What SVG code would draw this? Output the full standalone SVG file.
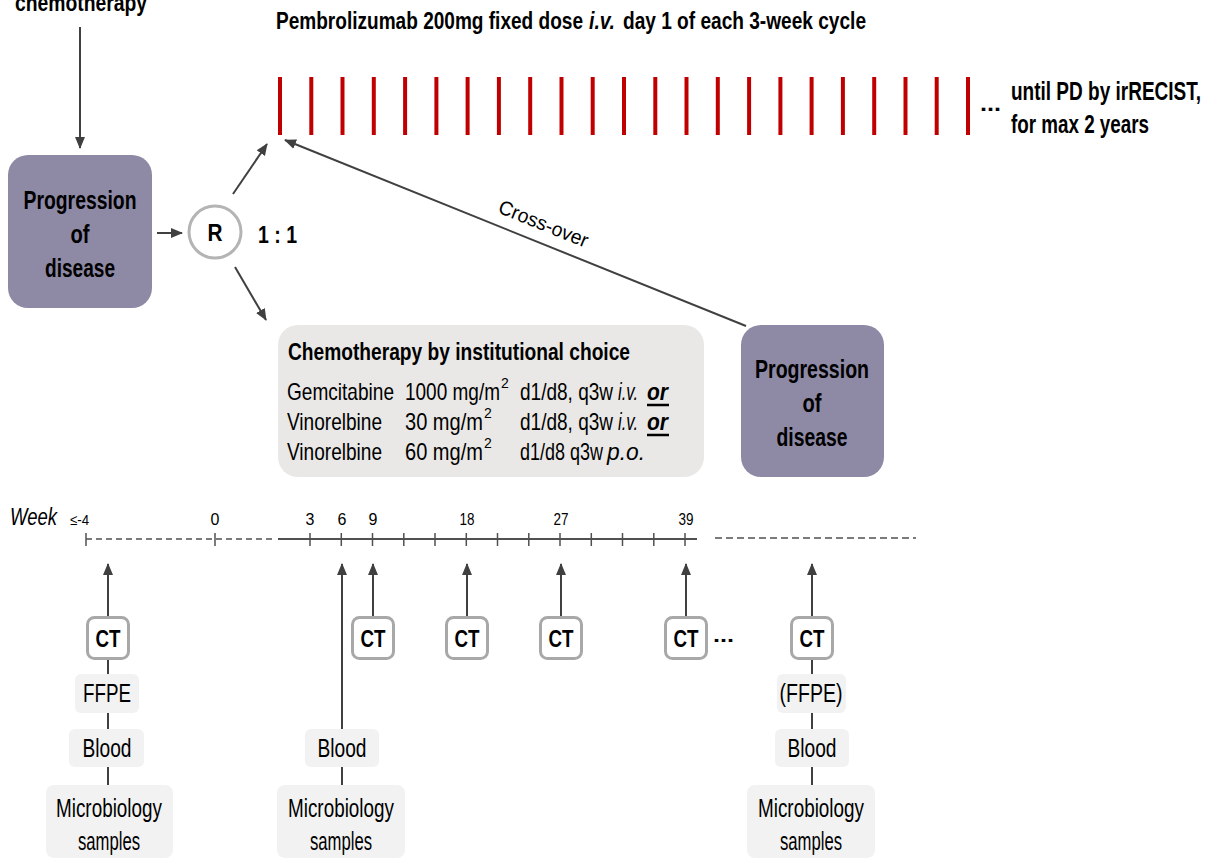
<svg xmlns="http://www.w3.org/2000/svg" width="1205" height="858" viewBox="0 0 1205 858">
<defs>
<style>
.t{font-family:"Liberation Sans Narrow","Liberation Sans",Arial,sans-serif;fill:#000}
.b{font-weight:bold}
.i{font-style:italic}
.m{text-anchor:middle}
.pd{fill:#8e89a5}
.ln{stroke:#404040;stroke-width:2;fill:none}
.tk{stroke:#505050;stroke-width:1.5;fill:none}
.red{stroke:#c00000;stroke-width:4}
.ct{fill:#fff;stroke:#a8a8a8;stroke-width:3}
.smp{fill:#f2f2f2}
</style>
<marker id="ah" markerUnits="userSpaceOnUse" markerWidth="12" markerHeight="12" viewBox="0 0 12 12" refX="11" refY="6" orient="auto">
<path d="M0,1 L12,6 L0,11 z" fill="#404040"/>
</marker>
</defs>
<rect width="1205" height="858" fill="#fff"/>

<g id="header">
<text class="t b m" x="81" y="11" font-size="24" textLength="132" lengthAdjust="spacingAndGlyphs">chemotherapy</text>
<text class="t b" x="276" y="29" font-size="23" textLength="307" lengthAdjust="spacingAndGlyphs">Pembrolizumab 200mg fixed dose</text>
<text class="t b i" x="589" y="29" font-size="23" textLength="26" lengthAdjust="spacingAndGlyphs">i.v.</text>
<text class="t b" x="623" y="29" font-size="23" textLength="243" lengthAdjust="spacingAndGlyphs">day 1 of each 3-week cycle</text>
</g>

<g id="pembro-cycles">
<line class="red" x1="280" y1="77" x2="280" y2="135"/>
<line class="red" x1="311.3" y1="77" x2="311.3" y2="135"/>
<line class="red" x1="342.5" y1="77" x2="342.5" y2="135"/>
<line class="red" x1="373.8" y1="77" x2="373.8" y2="135"/>
<line class="red" x1="405.1" y1="77" x2="405.1" y2="135"/>
<line class="red" x1="436.4" y1="77" x2="436.4" y2="135"/>
<line class="red" x1="467.6" y1="77" x2="467.6" y2="135"/>
<line class="red" x1="498.9" y1="77" x2="498.9" y2="135"/>
<line class="red" x1="530.2" y1="77" x2="530.2" y2="135"/>
<line class="red" x1="561.5" y1="77" x2="561.5" y2="135"/>
<line class="red" x1="592.7" y1="77" x2="592.7" y2="135"/>
<line class="red" x1="624" y1="77" x2="624" y2="135"/>
<line class="red" x1="655.3" y1="77" x2="655.3" y2="135"/>
<line class="red" x1="686.5" y1="77" x2="686.5" y2="135"/>
<line class="red" x1="717.8" y1="77" x2="717.8" y2="135"/>
<line class="red" x1="749.1" y1="77" x2="749.1" y2="135"/>
<line class="red" x1="780.4" y1="77" x2="780.4" y2="135"/>
<line class="red" x1="811.6" y1="77" x2="811.6" y2="135"/>
<line class="red" x1="842.9" y1="77" x2="842.9" y2="135"/>
<line class="red" x1="874.2" y1="77" x2="874.2" y2="135"/>
<line class="red" x1="905.5" y1="77" x2="905.5" y2="135"/>
<line class="red" x1="936.7" y1="77" x2="936.7" y2="135"/>
<line class="red" x1="968" y1="77" x2="968" y2="135"/>
<text class="t b" x="980" y="111" font-size="22" textLength="21" lengthAdjust="spacingAndGlyphs">...</text>
<text class="t b" x="1011" y="100" font-size="25" textLength="190" lengthAdjust="spacingAndGlyphs">until PD by irRECIST,</text>
<text class="t b" x="1011" y="133" font-size="25" textLength="138" lengthAdjust="spacingAndGlyphs">for max 2 years</text>
</g>

<g id="progression-left">
<rect class="pd" x="8" y="155" width="144" height="153" rx="20"/>
<text class="t b m" x="80" y="209" font-size="25" textLength="113" lengthAdjust="spacingAndGlyphs">Progression</text>
<text class="t b m" x="80" y="243" font-size="25" textLength="19" lengthAdjust="spacingAndGlyphs">of</text>
<text class="t b m" x="80" y="277" font-size="25" textLength="70" lengthAdjust="spacingAndGlyphs">disease</text>
</g>

<g id="randomisation">
<circle cx="215" cy="232" r="26" fill="#fff" stroke="#b4b4b4" stroke-width="3"/>
<text class="t b m" x="215" y="241" font-size="23" textLength="15" lengthAdjust="spacingAndGlyphs">R</text>
<text class="t b" x="258" y="243" font-size="23" textLength="39" lengthAdjust="spacingAndGlyphs">1 : 1</text>
</g>

<g id="chemo-arm">
<rect x="278" y="325" width="426" height="152" rx="20" fill="#e9e8e6"/>
<text class="t b" x="288" y="360" font-size="23" textLength="342" lengthAdjust="spacingAndGlyphs">Chemotherapy by institutional choice</text>
<text class="t" x="287" y="400" font-size="24" textLength="107" lengthAdjust="spacingAndGlyphs">Gemcitabine</text>
<text class="t" x="405" y="400" font-size="24" textLength="95" lengthAdjust="spacingAndGlyphs">1000 mg/m</text>
<text class="t" x="501" y="388" font-size="14">2</text>
<text class="t" x="520" y="400" font-size="24" textLength="93" lengthAdjust="spacingAndGlyphs">d1/d8, q3w</text>
<text class="t i" x="618" y="400" font-size="24" textLength="20" lengthAdjust="spacingAndGlyphs">i.v.</text>
<text class="t b i" x="647" y="400" font-size="24" textLength="21" lengthAdjust="spacingAndGlyphs">or</text>
<line x1="647" y1="405" x2="669" y2="405" stroke="#000" stroke-width="2.5"/>
<text class="t" x="287" y="430" font-size="24" textLength="95" lengthAdjust="spacingAndGlyphs">Vinorelbine</text>
<text class="t" x="405" y="430" font-size="24" textLength="78" lengthAdjust="spacingAndGlyphs">30 mg/m</text>
<text class="t" x="484" y="418" font-size="14">2</text>
<text class="t" x="520" y="430" font-size="24" textLength="93" lengthAdjust="spacingAndGlyphs">d1/d8, q3w</text>
<text class="t i" x="618" y="430" font-size="24" textLength="20" lengthAdjust="spacingAndGlyphs">i.v.</text>
<text class="t b i" x="647" y="430" font-size="24" textLength="21" lengthAdjust="spacingAndGlyphs">or</text>
<line x1="647" y1="435" x2="669" y2="435" stroke="#000" stroke-width="2.5"/>
<text class="t" x="287" y="460" font-size="24" textLength="95" lengthAdjust="spacingAndGlyphs">Vinorelbine</text>
<text class="t" x="405" y="460" font-size="24" textLength="78" lengthAdjust="spacingAndGlyphs">60 mg/m</text>
<text class="t" x="484" y="448" font-size="14">2</text>
<text class="t" x="520" y="460" font-size="24" textLength="83" lengthAdjust="spacingAndGlyphs">d1/d8 q3w</text>
<text class="t i" x="607" y="460" font-size="24" textLength="38" lengthAdjust="spacingAndGlyphs">p.o.</text>
</g>

<g id="progression-right">
<rect class="pd" x="741" y="325" width="143" height="152" rx="20"/>
<text class="t b m" x="812" y="378" font-size="25" textLength="114" lengthAdjust="spacingAndGlyphs">Progression</text>
<text class="t b m" x="812" y="412" font-size="25" textLength="19" lengthAdjust="spacingAndGlyphs">of</text>
<text class="t b m" x="812" y="446" font-size="25" textLength="71" lengthAdjust="spacingAndGlyphs">disease</text>
</g>

<g id="connectors">
<line class="ln" x1="80" y1="27" x2="80" y2="148" marker-end="url(#ah)"/>
<line class="ln" x1="157" y1="233" x2="182" y2="233" marker-end="url(#ah)"/>
<line class="ln" x1="233" y1="194" x2="267" y2="144" marker-end="url(#ah)"/>
<line class="ln" x1="235" y1="267" x2="266" y2="320" marker-end="url(#ah)"/>
<line class="ln" x1="746" y1="326" x2="285" y2="140" stroke-width="2.5" marker-end="url(#ah)"/>
<text class="t" x="0" y="0" font-size="20" text-anchor="middle" textLength="95" lengthAdjust="spacingAndGlyphs" transform="translate(541,230) rotate(22)">Cross-over</text>
</g>

<g id="timeline">
<text class="t i" x="10" y="525" font-size="24" textLength="47" lengthAdjust="spacingAndGlyphs">Week</text>
<text class="t" x="70" y="525" font-size="15" textLength="19" lengthAdjust="spacingAndGlyphs">≤-4</text>
<text class="t m" x="215" y="525" font-size="16">0</text>
<text class="t m" x="310" y="525" font-size="16">3</text>
<text class="t m" x="342" y="525" font-size="16">6</text>
<text class="t m" x="373" y="525" font-size="16">9</text>
<text class="t m" x="467" y="525" font-size="16" textLength="15" lengthAdjust="spacingAndGlyphs">18</text>
<text class="t m" x="561" y="525" font-size="16" textLength="15" lengthAdjust="spacingAndGlyphs">27</text>
<text class="t m" x="686" y="525" font-size="16" textLength="15" lengthAdjust="spacingAndGlyphs">39</text>
<line class="tk" x1="86" y1="533" x2="86" y2="546"/>
<line x1="86" y1="539" x2="272" y2="539" stroke="#505050" stroke-width="1.5" stroke-dasharray="6,4"/>
<line class="tk" x1="215" y1="533" x2="215" y2="546"/>
<line x1="278" y1="539" x2="697" y2="539" stroke="#505050" stroke-width="2"/>
<line class="tk" x1="310" y1="533" x2="310" y2="546"/>
<line class="tk" x1="341.3" y1="533" x2="341.3" y2="546"/>
<line class="tk" x1="372.5" y1="533" x2="372.5" y2="546"/>
<line class="tk" x1="403.8" y1="533" x2="403.8" y2="546"/>
<line class="tk" x1="435" y1="533" x2="435" y2="546"/>
<line class="tk" x1="466.3" y1="533" x2="466.3" y2="546"/>
<line class="tk" x1="497.5" y1="533" x2="497.5" y2="546"/>
<line class="tk" x1="528.8" y1="533" x2="528.8" y2="546"/>
<line class="tk" x1="560" y1="533" x2="560" y2="546"/>
<line class="tk" x1="591.3" y1="533" x2="591.3" y2="546"/>
<line class="tk" x1="622.5" y1="533" x2="622.5" y2="546"/>
<line class="tk" x1="653.8" y1="533" x2="653.8" y2="546"/>
<line class="tk" x1="685" y1="533" x2="685" y2="546"/>
<line x1="715" y1="538" x2="916" y2="538" stroke="#505050" stroke-width="1.5" stroke-dasharray="7,4"/>
</g>

<g id="sample-links">
<line class="ln" x1="108" y1="617" x2="108" y2="564" stroke-width="1.5" marker-end="url(#ah)"/>
<line class="ln" x1="108" y1="659" x2="108" y2="674" stroke-width="1.5"/>
<line class="ln" x1="108" y1="713" x2="108" y2="729" stroke-width="1.5"/>
<line class="ln" x1="108" y1="767" x2="108" y2="785" stroke-width="1.5"/>
<line class="ln" x1="342" y1="729" x2="342" y2="564" stroke-width="1.5" marker-end="url(#ah)"/>
<line class="ln" x1="342" y1="767" x2="342" y2="785" stroke-width="1.5"/>
<line class="ln" x1="373" y1="617" x2="373" y2="564" stroke-width="1.5" marker-end="url(#ah)"/>
<line class="ln" x1="467" y1="617" x2="467" y2="564" stroke-width="1.5" marker-end="url(#ah)"/>
<line class="ln" x1="561" y1="617" x2="561" y2="564" stroke-width="1.5" marker-end="url(#ah)"/>
<line class="ln" x1="686" y1="617" x2="686" y2="564" stroke-width="1.5" marker-end="url(#ah)"/>
<line class="ln" x1="812" y1="617" x2="812" y2="564" stroke-width="1.5" marker-end="url(#ah)"/>
<line class="ln" x1="812" y1="659" x2="812" y2="674" stroke-width="1.5"/>
<line class="ln" x1="812" y1="713" x2="812" y2="729" stroke-width="1.5"/>
<line class="ln" x1="812" y1="767" x2="812" y2="785" stroke-width="1.5"/>
</g>

<g id="ct-baseline">
<rect class="ct" x="87.5" y="617.5" width="41" height="41" rx="7"/>
<text class="t b m" x="108" y="647" font-size="23" textLength="25" lengthAdjust="spacingAndGlyphs">CT</text>
</g>
<g id="ffpe-baseline">
<rect class="smp" x="75" y="674" width="64" height="39" rx="6"/>
<text class="t m" x="107" y="702" font-size="25" textLength="48" lengthAdjust="spacingAndGlyphs">FFPE</text>
</g>
<g id="blood-baseline">
<rect class="smp" x="69" y="729" width="75" height="38" rx="6"/>
<text class="t m" x="107" y="757" font-size="25" textLength="49" lengthAdjust="spacingAndGlyphs">Blood</text>
</g>
<g id="micro-baseline">
<rect class="smp" x="46" y="785" width="127" height="73" rx="8"/>
<text class="t m" x="109" y="817" font-size="25" textLength="106" lengthAdjust="spacingAndGlyphs">Microbiology</text>
<text class="t m" x="109" y="850" font-size="25" textLength="62" lengthAdjust="spacingAndGlyphs">samples</text>
</g>

<g id="blood-week6">
<rect class="smp" x="305" y="729" width="74" height="38" rx="6"/>
<text class="t m" x="342" y="757" font-size="25" textLength="49" lengthAdjust="spacingAndGlyphs">Blood</text>
</g>
<g id="micro-week6">
<rect class="smp" x="277" y="785" width="128" height="73" rx="8"/>
<text class="t m" x="341" y="817" font-size="25" textLength="106" lengthAdjust="spacingAndGlyphs">Microbiology</text>
<text class="t m" x="341" y="850" font-size="25" textLength="62" lengthAdjust="spacingAndGlyphs">samples</text>
</g>

<g id="ct-week9">
<rect class="ct" x="352.5" y="617.5" width="41" height="41" rx="7"/>
<text class="t b m" x="373" y="647" font-size="23" textLength="25" lengthAdjust="spacingAndGlyphs">CT</text>
</g>
<g id="ct-week18">
<rect class="ct" x="446.5" y="617.5" width="41" height="41" rx="7"/>
<text class="t b m" x="467" y="647" font-size="23" textLength="25" lengthAdjust="spacingAndGlyphs">CT</text>
</g>
<g id="ct-week27">
<rect class="ct" x="540.5" y="617.5" width="41" height="41" rx="7"/>
<text class="t b m" x="561" y="647" font-size="23" textLength="25" lengthAdjust="spacingAndGlyphs">CT</text>
</g>
<g id="ct-week39">
<rect class="ct" x="665.5" y="617.5" width="41" height="41" rx="7"/>
<text class="t b m" x="686" y="647" font-size="23" textLength="25" lengthAdjust="spacingAndGlyphs">CT</text>
<text class="t b" x="713" y="642" font-size="20" textLength="21" lengthAdjust="spacingAndGlyphs">...</text>
</g>

<g id="ct-pd">
<rect class="ct" x="791.5" y="617.5" width="41" height="41" rx="7"/>
<text class="t b m" x="812" y="647" font-size="23" textLength="25" lengthAdjust="spacingAndGlyphs">CT</text>
</g>
<g id="ffpe-pd">
<rect class="smp" x="777" y="674" width="69" height="39" rx="6"/>
<text class="t m" x="811" y="702" font-size="25" textLength="63" lengthAdjust="spacingAndGlyphs">(FFPE)</text>
</g>
<g id="blood-pd">
<rect class="smp" x="775" y="729" width="74" height="38" rx="6"/>
<text class="t m" x="812" y="757" font-size="25" textLength="49" lengthAdjust="spacingAndGlyphs">Blood</text>
</g>
<g id="micro-pd">
<rect class="smp" x="747" y="785" width="128" height="73" rx="8"/>
<text class="t m" x="811" y="817" font-size="25" textLength="106" lengthAdjust="spacingAndGlyphs">Microbiology</text>
<text class="t m" x="811" y="850" font-size="25" textLength="62" lengthAdjust="spacingAndGlyphs">samples</text>
</g>
</svg>
